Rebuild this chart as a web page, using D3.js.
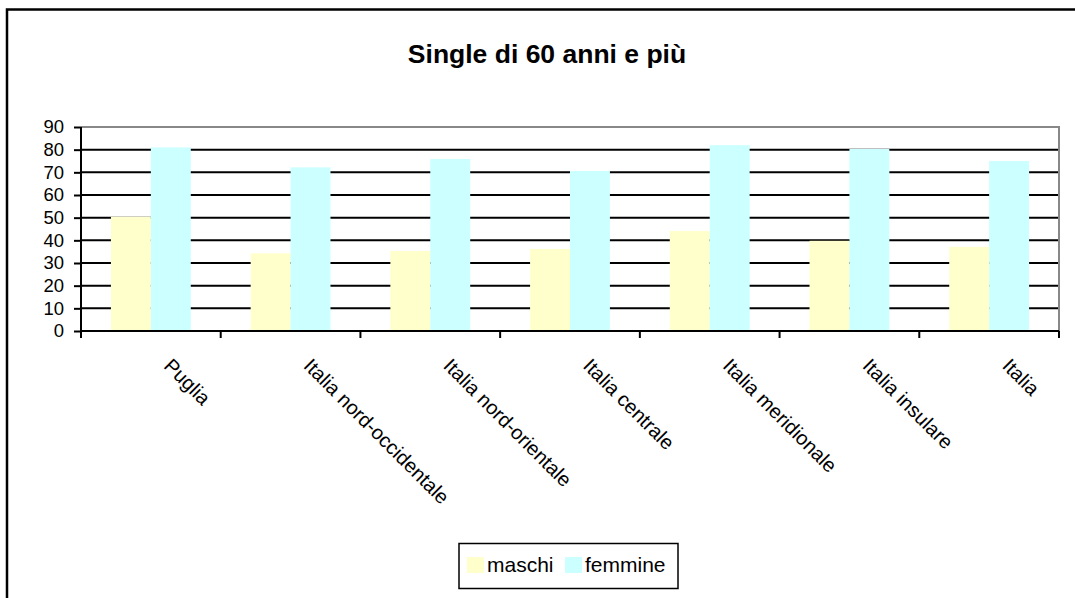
<!DOCTYPE html>
<html>
<head>
<meta charset="utf-8">
<script src="https://cdn.jsdelivr.net/npm/d3@7"></script>
<style>
  body { margin: 0; background: #fff; }
  text { font-family: "Liberation Sans", Arial, sans-serif; }
</style>
</head>
<body>
<div id="chart"></div>
<script>
const categories = ['Puglia', 'Italia nord-occidentale', 'Italia nord-orientale', 'Italia centrale', 'Italia meridionale', 'Italia insulare', 'Italia'];
const seriesNames = ['maschi', 'femmine'];
const maschi = [50.4, 34.3, 35.3, 36.2, 44.1, 39.8, 37.1];
const femmine = [81.0, 72.2, 75.9, 70.6, 82.0, 80.3, 75.0];
const yTicks = [0, 10, 20, 30, 40, 50, 60, 70, 80, 90];
const title = 'Single di 60 anni e più';

const colors = ['#FFFFCC', '#CCFFFF'];

const width = 1075, height = 598;
const plot = { left: 81, right: 1059, top: 127, bottom: 331 };

const svg = d3.select('#chart').append('svg')
  .attr('width', width)
  .attr('height', height);

// outer chart border (runs off the picture on the right and bottom)
svg.append('rect')
  .attr('x', 7).attr('y', 9.5)
  .attr('width', 1200).attr('height', 800)
  .attr('fill', '#fff')
  .attr('stroke', '#000')
  .attr('stroke-width', 2.5);

svg.append('text')
  .attr('x', 547).attr('y', 63)
  .attr('text-anchor', 'middle')
  .style('font-size', '26.5px')
  .style('font-weight', 'bold')
  .text(title);

const x0 = d3.scaleBand().domain(categories).range([plot.left, plot.right])
  .paddingInner(1.5 / 3.5).paddingOuter(0.75 / 3.5);
const x1 = d3.scaleBand().domain(seriesNames).range([0, x0.bandwidth()]);
const y = d3.scaleLinear().domain([0, 90]).range([plot.bottom, plot.top]);

// gridlines
svg.append('g').selectAll('line')
  .data(yTicks.filter(t => t > 0 && t < 90))
  .join('line')
  .attr('x1', plot.left).attr('x2', plot.right)
  .attr('y1', d => y(d)).attr('y2', d => y(d))
  .attr('stroke', '#000').attr('stroke-width', 2);

// plot area frame: grey top and right
svg.append('path')
  .attr('d', `M${plot.left},${y(90)}H${plot.right}V${plot.bottom}`)
  .attr('fill', 'none').attr('stroke', '#888').attr('stroke-width', 2);

const data = categories.map((c, i) => ({ cat: c, values: [maschi[i], femmine[i]] }));

svg.append('g').selectAll('g')
  .data(data)
  .join('g')
  .attr('transform', d => `translate(${x0(d.cat)},0)`)
  .selectAll('rect')
  .data(d => d.values.map((v, j) => ({ key: seriesNames[j], value: v, color: colors[j] })))
  .join('rect')
  .attr('x', d => x1(d.key))
  .attr('y', d => y(d.value))
  .attr('width', x1.bandwidth())
  .attr('height', d => y(0) - y(d.value))
  .attr('fill', d => d.color);

// y axis
const yAxis = svg.append('g')
  .attr('transform', `translate(${plot.left},0)`)
  .call(d3.axisLeft(y).tickValues(yTicks).tickSize(7).tickPadding(10));
yAxis.selectAll('text').style('font-size', '18.5px').attr('fill', '#000');
yAxis.selectAll('line').attr('stroke', '#000').attr('stroke-width', 2);
yAxis.select('.domain').attr('stroke', '#000').attr('stroke-width', 2).attr('d', `M0,${y(90)}V${y(0)}`);

// x axis with ticks between categories
const step = x0.step();
svg.append('line')
  .attr('x1', plot.left).attr('x2', plot.right)
  .attr('y1', y(0)).attr('y2', y(0))
  .attr('stroke', '#000').attr('stroke-width', 2);
svg.append('g').selectAll('line')
  .data(d3.range(categories.length + 1))
  .join('line')
  .attr('x1', i => plot.left + i * step).attr('x2', i => plot.left + i * step)
  .attr('y1', y(0)).attr('y2', y(0) + 7)
  .attr('stroke', '#000').attr('stroke-width', 2);

// rotated category labels
svg.append('g').selectAll('text')
  .data(categories)
  .join('text')
  .attr('transform', d => `translate(${x0(d) + x0.bandwidth() / 2 + 12},367) rotate(45)`)
  .style('font-size', '20px')
  .text(d => d);

// legend
const legend = svg.append('g');
legend.append('rect')
  .attr('x', 459).attr('y', 543.5)
  .attr('width', 219).attr('height', 45)
  .attr('fill', '#fff').attr('stroke', '#000').attr('stroke-width', 1.5);
const legendX = [467, 565];
seriesNames.forEach((name, i) => {
  legend.append('rect')
    .attr('x', legendX[i]).attr('y', 557)
    .attr('width', 17).attr('height', 16)
    .attr('fill', colors[i]);
  legend.append('text')
    .attr('x', legendX[i] + 20).attr('y', 572)
    .style('font-size', '21px')
    .text(name);
});
</script>
</body>
</html>
